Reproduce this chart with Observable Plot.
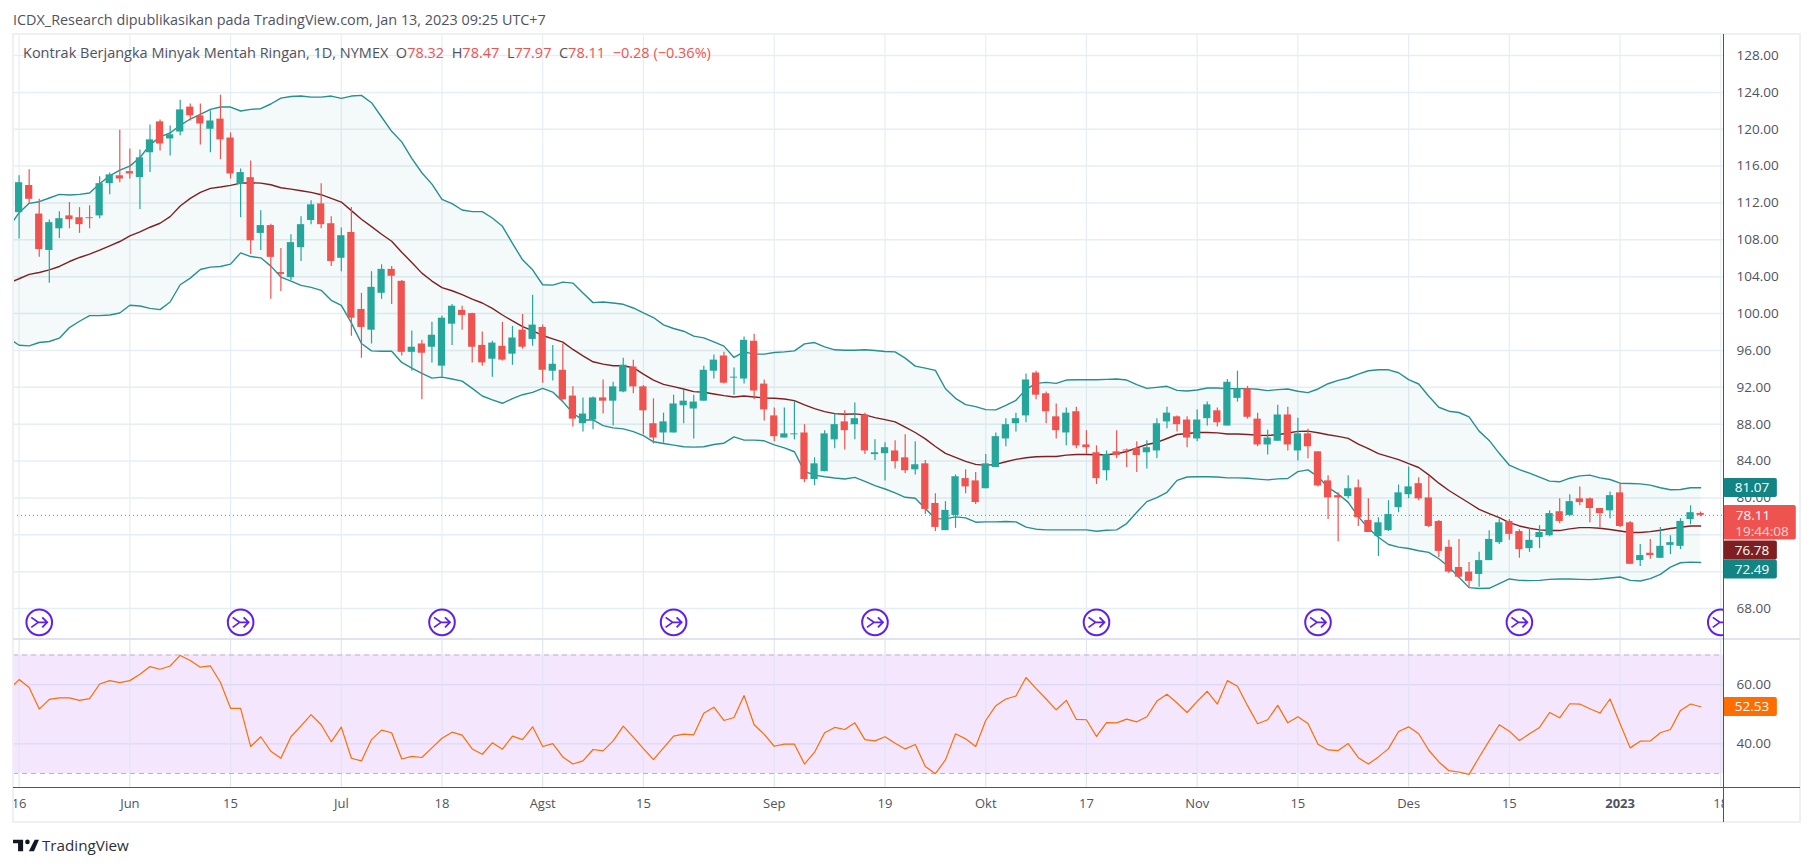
<!DOCTYPE html>
<html><head><meta charset="utf-8">
<script src="https://cdn.jsdelivr.net/npm/d3@7"></script>
<script src="https://cdn.jsdelivr.net/npm/@observablehq/plot@0.6"></script>
<style>
html,body{margin:0;padding:0;background:#fff;width:1813px;height:866px;overflow:hidden;font-family:"Open Sans",sans-serif}
#root{position:relative;width:1813px;height:866px}
#root svg.plot{position:absolute;left:0;background:transparent;max-width:none}
.abs{position:absolute;white-space:pre}
.line{position:absolute}
</style></head><body><div id="root">
<div class="abs" style="left:13px;top:10px;font-size:14.4px;color:#50535e">ICDX_Research dipublikasikan pada TradingView.com, Jan 13, 2023 09:25 UTC+7</div>
<div class="abs" style="left:23px;top:43px;font-size:14.5px;color:#50535e;z-index:5">Kontrak Berjangka Minyak Mentah Ringan, 1D, NYMEX  O<span style="color:#ef5350">78.32</span>  H<span style="color:#ef5350">78.47</span>  L<span style="color:#ef5350">77.97</span>  C<span style="color:#ef5350">78.11</span>  <span style="color:#ef5350">−0.28 (−0.36%)</span></div>
<div class="abs" style="left:42px;top:835px;font-size:15.2px;color:#2a2e39">TradingView</div>
<svg style="position:absolute;left:13px;top:838px" width="26" height="15" viewBox="0 0 36 20"><path fill="#131722" d="M14 2H0v5h7v11h7z"/><circle fill="#131722" cx="20" cy="5" r="3.2"/><path fill="#131722" d="M30 2h6l-7 16h-7z" /></svg>
</div>
<script>
const openPrice=[110.95,113.9,110.8,106.85,109.2,110.6,110.4,110.4,110.6,114.1,
114.95,115.4,114.75,117.45,120.8,118.95,119.7,122.4,121.45,120,
121.1,119.05,114,114.75,108.7,109.55,104.45,103.9,107.15,110.1,
111.9,109.75,106,108.8,100.45,98.2,102.2,104.8,103.5,95.8,
96.7,96.35,94.3,98.85,100.35,100,96.55,95.05,96.45,95.6,
98.2,97.2,98.5,93.75,93.85,91.05,88.05,88.45,90.85,90.5,
91.5,94.2,92.05,88.05,87.05,87.05,90,89.65,90.5,93.75,
95.4,93,92.9,97,92.35,88.9,86.5,86.85,87.05,82,
82.85,86.3,88.25,87.95,89,84.7,84.8,85.1,84.35,83.05,
83.7,79.4,76.45,78.1,82.1,81.85,81,83.3,86.4,88.05,
88.9,93.55,91.3,88.8,87.05,89.35,85.75,84.9,82.95,85,
85.2,85.35,84.9,85.1,88.25,88.8,88.45,86.4,88.6,89.45,
87.8,90.8,91.85,88.55,85.75,86.15,89,85.1,86.95,85,
81.85,80.25,80.15,81.1,77.55,75.8,76.45,78.95,80.35,81.55,
80,77.45,74.65,72.45,71.95,71.7,73.2,75.15,77.45,76.35,
74.5,75.7,75.9,78.5,78.1,79.9,79.9,78.85,78.6,80.55,
77.3,73.2,74,73.45,74.85,74.75,77.65,78.32];
const closePrice=[114.2,112.4,106.95,109.87,110.3,110.2,109.65,110.3,114.1,115.05,
114.6,115.15,116.9,118.85,118.4,119.4,122.1,121.45,120.57,120.9,
118.85,115.15,115.3,107.9,109.55,106.1,104.25,107.7,109.65,111.8,
109.65,105.65,108.45,99.5,98.5,102.85,104.8,104.05,95.8,96.35,
95.7,97.65,99.5,100.8,99.8,96.35,94.65,96.8,94.95,97.35,
96.35,98.75,93.85,94.5,90.65,88.55,89.1,90.85,90.5,92.05,
94.4,92.05,89.45,86.5,88.25,90.2,90.5,90.4,93.85,94.95,
92.45,93.1,97.1,91.6,89.55,86.65,86.95,86.95,82,83.7,
86.95,87.95,87.3,88.6,85.1,84.9,85.45,83.95,82.95,83.6,
78.75,76.8,78.65,82.3,81.2,79.5,83.7,86.65,87.95,88.6,
92.8,91.15,89.35,87.3,89.2,85.65,85.45,82.1,84.7,84.6,
85.1,84.6,85.45,88.05,89.2,87.95,86.5,88.45,90.1,88.15,
92.55,91.85,88.75,85.75,86.5,89,85.75,86.95,85.55,81.3,
80,80,81,77.85,76.25,77.3,78.2,80.55,81.2,79.9,
76.9,74.2,71.95,71.4,70.95,73.2,75.5,77.3,76.05,74.4,
75.4,76.25,78.3,77.45,79.6,79.5,78.85,78.3,80.25,76.9,
72.8,73.75,73.75,74.75,75.15,77.45,78.4,78.11];
const highPrice=[114.95,115.6,112.4,110.15,111.05,112.05,111.5,111.7,114.85,115.25,
119.9,117.85,117.75,120.45,121,120.35,123.15,122.75,122.75,122,
123.7,119.6,115.7,116.55,111.15,109.7,107.05,108.55,110.5,112.25,
114.1,110.5,109.3,111.5,102.2,104.55,105.3,105.1,103.6,98.1,
97.1,99.05,99.7,101,100.8,100.05,98,97,99.05,98.6,
99.9,102,98.75,96.55,96.7,92.05,90.85,90.95,92.8,92.55,
95.15,94.95,92.2,90.75,89.2,91.15,91.7,91.15,94.3,95.5,
95.8,94.1,97.45,97.75,92.8,89.75,89.75,90.5,87.95,84.35,
87.3,89.1,89.45,90.3,89.2,86.3,86,86.2,86.85,86.1,
84.05,80.45,79.6,82.5,83.05,82.75,84.7,87.05,88.6,89.2,
93.45,93.75,91.5,90.2,89.75,89.85,87.3,85.65,85.1,87.3,
85.3,86.1,86.2,88.6,89.85,88.9,88.8,89.55,90.4,89.75,
92.85,93.75,92.1,89.2,87.35,90.05,89.85,88.65,87.45,85,
82.4,80.55,82.4,81.95,79.9,77.85,79.7,81.4,83.35,82.2,
82.4,77.55,75.4,75.5,73,74.1,76.45,77.65,77.65,76.55,
76.7,77,78.6,79.9,80.35,81.2,80,78.85,80.65,81.55,
77.45,74.95,75.5,76.8,75.9,77.75,79.15,78.47];
const lowPrice=[108.1,111.9,106.1,103.3,108.15,109.2,108.7,109.2,110.3,112.9,
114.2,114.6,111.3,115.3,117.65,117.1,119.3,120.9,118.3,117.45,
116.7,114.6,110.4,106.4,106.85,101.55,102.4,103.6,105.65,109.65,
109.2,105.1,104.55,97.55,95.15,96.7,101.55,101,95.4,93.75,
90.65,94.65,93.1,96.55,98.2,94.65,94.3,93.1,94.85,94.4,
96.15,96.45,92.45,92.7,90.6,87.7,87.15,87.4,89.1,87.8,
91.4,91.3,86.85,85.85,85.95,87.05,88.05,86.4,90.5,92.9,
92.35,91.15,92.35,90.65,88.35,86.1,86.5,86.3,81.65,81.35,
82.85,85.35,85.2,86.3,84.7,84.05,81.85,83.15,82.65,82.5,
78.2,76.35,76.45,76.7,80.45,79.3,81,83.3,85.55,87.15,
88.15,90.65,88.05,86.4,85.65,85.35,84.7,81.45,81.85,84.25,
83.3,82.75,83.15,84.25,87.5,87.15,85.45,86.1,87.8,87.7,
87.8,90.4,88.55,85.55,84.65,86.15,85.1,84,84.25,81.2,
77.65,75.25,79.9,76.9,76.25,73.65,76.35,78.4,79.9,79.7,
76.8,73.55,71.8,71.3,70.2,70.3,73.2,74.95,75.4,73.45,
74.1,74.5,75.8,77.2,77.95,79.15,77.3,76.8,77.75,76.8,
72.8,72.55,73.35,73.45,73.85,74.4,77.1,77.97];
// Bollinger bands, first entry is the bar just left of the pane
const upperBand=[109.37,110.95,111.96,112.14,112.54,112.93,112.86,112.93,113.08,114.09,114.95,
115.56,116,116.93,118.3,119.17,119.6,120.43,121.11,121.62,122.16,
122.41,122.41,121.98,122.16,122.23,122.74,123.38,123.56,123.6,123.49,
123.49,123.6,123.35,123.6,123.67,122.88,121.33,119.78,118.63,116.83,
115.28,114.05,112.39,111.93,111.24,111.06,111.06,110.37,109.47,107.63,
105.83,104.75,103.13,103.09,103.42,103.31,102.23,101.19,101.26,101.15,
101.01,100.61,100.07,99.57,98.77,98.38,98.09,97.55,97.37,96.94,
96.47,95.24,95.85,95.6,95.6,95.78,95.85,95.96,96.72,96.86,
96.39,96.07,96.03,96.03,96.07,96,95.89,95.85,95.17,94.3,
94.09,93.84,91.85,90.81,90.12,89.91,89.58,89.55,90.05,90.59,
91.78,92.43,92.54,92.43,92.79,92.83,92.83,92.83,92.86,92.9,
92.79,92.29,91.89,92,92.11,91.67,91.6,91.71,91.93,91.93,
91.86,91.86,91.86,91.79,91.64,91.75,91.82,91.57,91.42,91.82,
92.39,92.76,93.01,93.44,93.8,93.9,93.9,93.58,92.83,92.36,
91.03,89.84,89.41,89.27,88.8,87.25,86.24,84.84,83.55,83.08,
82.69,82.25,81.82,81.75,82.14,82.39,82.47,82.18,82,81.6,
81.57,81.53,81.39,81.1,80.89,80.92,81.1,81.1];
const middleBand=[103.35,103.78,104.25,104.46,104.75,105.11,105.65,106.09,106.45,106.88,107.35,
107.82,108.43,108.86,109.37,109.8,110.52,111.67,112.5,113.15,113.58,
113.73,113.91,114.16,114.19,114.16,113.98,113.65,113.51,113.33,113.15,
112.9,112.5,112.1,111.17,110.23,109.44,108.61,107.85,106.66,105.55,
104.39,103.53,102.81,102.48,102.05,101.58,101.15,100.57,99.85,99.2,
98.59,98.16,97.62,97.26,96.9,96.11,95.42,94.77,94.52,94.34,
94.34,94.13,93.44,92.79,92.32,92.07,91.82,91.53,91.46,91.28,
91.1,90.95,91.06,90.95,90.85,90.81,90.74,90.56,90.09,89.69,
89.37,89.15,89.08,89.12,89.01,88.72,88.5,88.25,87.67,87.1,
86.41,85.58,84.83,84.39,83.96,83.64,83.53,83.64,83.93,84.18,
84.36,84.47,84.5,84.5,84.65,84.72,84.72,84.68,84.68,84.79,
85.04,85.44,85.8,86.02,86.45,86.88,86.99,87.1,87.1,87.06,
86.93,86.93,86.89,86.82,86.78,86.86,87.04,87.22,87.25,87.07,
86.86,86.68,86.46,85.85,85.35,84.81,84.48,84.16,83.73,83.3,
82.5,81.6,80.81,80.13,79.45,78.76,78.3,77.86,77.32,76.96,
76.71,76.53,76.46,76.46,76.64,76.78,76.78,76.71,76.57,76.42,
76.25,76.25,76.35,76.5,76.68,76.82,76.95,76.95];
const lowerBand=[97.29,96.57,96.5,96.86,96.97,97.33,98.48,99.17,99.78,99.78,99.85,
100.07,100.9,100.82,100.57,100.43,101.26,103.13,103.85,104.79,105.04,
105.11,105.37,106.59,106.19,106.05,105.15,103.96,103.53,103.06,102.84,
102.52,101.44,100.9,98.99,96.75,95.96,95.92,95.92,94.7,94.09,
93.51,93,93.11,92.9,92.68,91.89,91.06,90.63,90.27,90.77,
91.2,91.46,91.89,91.49,90.45,89.18,88.46,88.46,87.85,87.6,
87.49,87.2,86.77,86.09,85.91,85.73,85.55,85.51,85.55,85.8,
85.94,86.63,86.27,86.27,86.2,85.76,85.44,85.01,82.88,82.48,
82.3,82.16,82.05,82.23,81.8,81.33,80.97,80.54,80.07,79.96,
78.85,77.73,77.73,77.94,77.84,77.37,77.4,77.4,77.44,77.4,
76.83,76.61,76.54,76.54,76.54,76.54,76.54,76.39,76.5,76.54,
77.22,78.45,79.6,80.03,80.61,81.91,82.27,82.3,82.3,82.27,
82.18,82.18,82.14,82.04,81.96,82.07,82.11,82.86,83.04,82.32,
81.14,80.42,79.52,77.97,76.71,75.74,74.95,74.66,74.52,74.27,
74.09,73.4,72.5,71.39,70.27,70.17,70.2,70.7,71.21,71.06,
71.03,71.06,71.17,71.21,71.21,71.17,71.14,71.21,71.32,71.42,
71.06,70.99,71.24,71.71,72.5,72.97,73.04,73];
const rsiValues=[58.3,61.7,59,51.75,55,55.5,55.5,54.7,55.25,60.2,61.35,
60.7,61.35,63.5,66.1,65.2,66.3,69.85,68.15,65.9,66.3,
60.7,52,52,39.1,42.4,37.5,35.15,42.4,46.1,49.85,
46.45,40.7,45.65,35.15,34.25,41.45,44.65,43.75,34.9,35.8,
35.4,38.65,41.9,43.95,42.95,38.3,36.5,40.35,38.2,42.6,
41.45,45.75,39.1,40.1,35.6,33.2,34.25,38.1,37.65,41,
46,42.25,38.4,34.7,38.65,42.6,43.3,43.05,50.3,52.4,
47.9,48.9,56.3,46.45,43.2,39.2,39.9,39.9,33.2,37.2,
43.75,45.55,44.85,47.1,41.45,41,42.4,40.2,38.3,39.8,
32.4,29.95,34.6,43.4,41.7,39.1,47.9,52.9,55.15,56.15,
62.4,58.65,55.15,51.5,54.7,48.25,48.15,42.5,47.2,47.1,
48.35,47.45,49.15,54.45,56.75,53.8,50.6,54.35,57.75,53.45,
61.35,59.45,52.9,46.8,48.15,53,47.1,49.15,46.9,39.9,
37.95,37.75,40.1,35.35,33.2,35.6,38.4,44.2,45.75,43.4,
37.85,33.9,30.95,30.5,29.7,35.5,41,46.45,44.3,41.15,
43.4,45.55,50.6,48.8,53.55,53.45,51.85,50.4,55.15,46.8,
38.65,40.9,41,43.75,44.85,51.3,53.45,52.53];
const priceGrid=[68,72,76,80,84,88,92,96,100,104,108,112,116,120,124,128];
const priceLabels=[68,80,84,88,92,96,100,104,108,112,116,120,124,128];
const rsiTicks=[40,60];
const dateTickBars=[0,11,21,32,42,52,62,75,86,96,106,117,127,138,148,159,169];
const dateTickLabels=["16","Jun","15","Jul","18","Agst","15","Sep","19","Okt","17","Nov","15","Des","15","2023","18"];
const rolloverBars=[2,22,42,65,85,107,129,149,169];
const valueTags=[
 {label:"81.07",at:81.08,fill:"#138484"},
 {label:"76.78",at:74.3,fill:"#801f22"},
 {label:"72.49",at:72.23,fill:"#138484"}];

const green="#26a69a",red="#ef5350",teal="#26908f",maroon="#801f22";
const gridC="#e6eef5",txt="#50535e";
const font='"Open Sans",sans-serif';
const xDom=[-0.556,169.27], tagRight=174.62, tagMid=172.1;
const bars=openPrice.map((o,i)=>({i,o,h:highPrice[i],l:lowPrice[i],c:closePrice[i]}));
const ups=bars.filter(d=>d.c>=d.o), downs=bars.filter(d=>d.c<d.o);
const bandPts=upperBand.map((u,k)=>({i:k-1,u,m:middleBand[k],b:lowerBand[k],r:rsiValues[k]}));
const rollSymbol={draw(ctx){ctx.moveTo(-8,-5);ctx.lineTo(-1,0);ctx.lineTo(-8,5);ctx.moveTo(-1,0);ctx.lineTo(8,0);ctx.moveTo(3,-5);ctx.lineTo(8,0);ctx.lineTo(3,5);}};
const candle=(rows,color)=>[
  Plot.ruleX(rows,{x:"i",y1:"l",y2:"h",stroke:color,strokeWidth:1.2}),
  Plot.rect(rows,{x1:d=>d.i-0.36,x2:d=>d.i+0.36,y1:d=>Math.min(d.o,d.c),y2:d=>Math.max(d.o,d.c),fill:color})];

const pricePlot=Plot.plot({width:1813,height:638,marginLeft:13,marginRight:90,marginTop:34,marginBottom:0,
 style:{fontFamily:font,background:"transparent",position:"absolute",top:"0px"},
 x:{domain:xDom,axis:null},y:{domain:[64.75,130.28],axis:null},
 marks:[
  Plot.ruleY(priceGrid,{stroke:gridC,strokeWidth:1.5}),
  Plot.ruleX(dateTickBars,{stroke:gridC,strokeWidth:1.2}),
  Plot.areaY(bandPts,{x:"i",y1:"b",y2:"u",fill:green,fillOpacity:0.055,clip:true}),
  Plot.ruleY([78.11],{stroke:red,strokeWidth:1,strokeDasharray:"1,3"}),
  Plot.line(bandPts,{x:"i",y:"u",stroke:teal,strokeWidth:1.4,clip:true}),
  Plot.line(bandPts,{x:"i",y:"b",stroke:teal,strokeWidth:1.4,clip:true}),
  Plot.line(bandPts,{x:"i",y:"m",stroke:maroon,strokeWidth:1.4,clip:true}),
  ...candle(ups,green),...candle(downs,red),
  Plot.dot(rolloverBars,{x:d=>d,y:66.5,r:12.8,stroke:"#5d20f0",strokeWidth:2,fill:"#fff",clip:true}),
  Plot.dot(rolloverBars,{x:d=>d,y:66.5,symbol:rollSymbol,stroke:"#5d20f0",strokeWidth:1.8,fill:"none",clip:true}),
  Plot.axisY(priceLabels,{anchor:"right",tickSize:0,tickPadding:13,tickFormat:d=>d.toFixed(2),label:null,fontSize:13.5,color:txt}),
  Plot.rect(valueTags,{x1:xDom[1],x2:tagRight,y1:d=>d.at-1.03,y2:d=>d.at+1.03,fill:"fill",rx:2}),
  Plot.text(valueTags,{x:tagMid,y:"at",text:"label",fill:"#fff",fontSize:13.5,fontWeight:500}),
  Plot.rect([78.11],{x1:xDom[1],x2:176.5,y1:75.43,y2:79.18,fill:red,rx:2}),
  Plot.text(["78.11"],{x:172.2,y:78.1,text:d=>d,fill:"#fff",fontSize:13.5,fontWeight:500}),
  Plot.text(["19:44:08"],{x:173.1,y:76.36,text:d=>d,fill:"#ffd4d2",fontSize:13.5,fontWeight:500})
 ]});
document.getElementById("root").appendChild(pricePlot);

const rsiPlot=Plot.plot({width:1813,height:184,marginLeft:13,marginRight:90,marginTop:0,marginBottom:0,
 style:{fontFamily:font,background:"transparent",position:"absolute",top:"638px"},
 x:{domain:xDom,axis:null},y:{domain:[13.46,75.57],axis:null},
 marks:[
  Plot.rect([0],{x1:xDom[0],x2:xDom[1],y1:30,y2:70,fill:"#f4e6fd"}),
  Plot.ruleY(rsiTicks,{stroke:"#dcd8f3",strokeWidth:1.3}),
  Plot.ruleX(dateTickBars,{y1:25.34,y2:75.57,stroke:"#dfe6f1",strokeWidth:1.2}),
  Plot.ruleY([30,70],{stroke:"#bfaec9",strokeWidth:1,strokeDasharray:"5,4"}),
  Plot.line(bandPts,{x:"i",y:"r",stroke:"#ff6d00",strokeWidth:1.2,clip:true}),
  Plot.axisY(rsiTicks,{anchor:"right",tickSize:0,tickPadding:13,tickFormat:d=>d.toFixed(2),label:null,fontSize:13.5,color:txt}),
  Plot.text(dateTickLabels.map((t,k)=>({t,b:dateTickBars[k]})).filter(d=>d.t!=="2023"),{x:"b",y:19.6,text:"t",fill:txt,fontSize:13,clip:true}),
  Plot.text([{t:"2023",b:159}],{x:"b",y:19.6,text:"t",fill:txt,fontSize:13,fontWeight:"bold",clip:true}),
  Plot.rect([0],{x1:xDom[1],x2:tagRight,y1:49.24,y2:55.65,fill:"#ff6d00",rx:2}),
  Plot.text(["52.53"],{x:tagMid,y:52.45,text:d=>d,fill:"#fff",fontSize:13.5,fontWeight:500})
 ]});
document.getElementById("root").appendChild(rsiPlot);

const root=document.getElementById("root");
for(const [l,t,w,h,c] of [
 [12,33,1789,2,"#eef0f5"],[12,33,2,790,"#eef0f5"],[1799,33,2,790,"#eef0f5"],[12,821,1789,2,"#eef0f5"],
 [13,638,1787,1.5,"#e0e3eb"],
 [13,787,1787,1.2,"#50535e"],[1723,34,1.2,788,"#50535e"]]){
  const d=document.createElement("div");d.className="line";
  d.style.cssText=`left:${l}px;top:${t}px;width:${w}px;height:${h}px;background:${c}`;
  root.appendChild(d);
}
</script></body></html>
